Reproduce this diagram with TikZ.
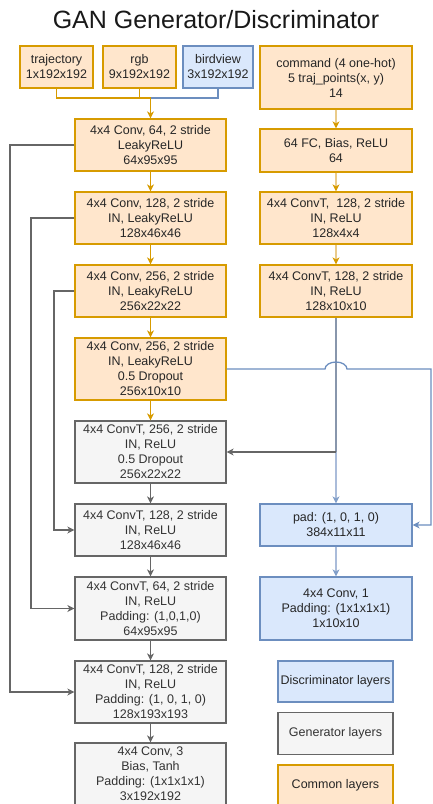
\documentclass[tikz,border=0pt]{standalone}
\usepackage{fontspec}
\setmainfont{Liberation Sans}
\usetikzlibrary{arrows.meta,calc}
\definecolor{orS}{HTML}{D79B00}
\definecolor{orF}{HTML}{FFE6CC}
\definecolor{orL}{HTML}{EACB8A}
\definecolor{blS}{HTML}{6C8EBF}
\definecolor{blF}{HTML}{DAE8FC}
\definecolor{blL}{HTML}{AABCDA}
\definecolor{grS}{HTML}{666666}
\definecolor{grF}{HTML}{F5F5F5}
\definecolor{grT}{HTML}{333333}
\definecolor{mixL}{HTML}{8896AC}
\begin{document}
\begin{tikzpicture}[x=1pt,y=-1pt,
  box/.style={draw, line width=1.2pt, align=center, inner sep=0pt,
    font=\fontsize{12.5}{15}\selectfont, minimum width=151pt},
  common/.style={box, draw=orS, fill=orF, text=black!85},
  gen/.style={box, draw=grS, fill=grF, text=grT},
  disc/.style={box, draw=blS, fill=blF, text=black!85},
  tipS/.style={-{Stealth[length=7pt,width=7pt,inset=2pt,#1]}},
  oline/.style={draw=orS, line width=1.3pt},
  oarrow/.style={oline, tipS={color=orS}},
  loarrow/.style={draw=orL, line width=1.5pt, tipS={color=orS}},
  bline/.style={draw=blS, line width=1.3pt},
  gline/.style={draw=grS, line width=1.3pt},
  garrow/.style={gline, tipS={color=grS}},
]
\useasboundingbox (0,0) rectangle (432,804);

\node[font=\fontsize{25}{30}\selectfont, text=black!90, anchor=base] (title) at (216,28.5) {GAN Generator/Discriminator};

% inputs
\node[common, minimum width=73pt, minimum height=42pt] (traj) at (56.5,67) {trajectory\\1x192x192};
\node[common, minimum width=73pt, minimum height=42pt] (rgb) at (139.5,67) {rgb\\9x192x192};
\node[disc, minimum width=70pt, minimum height=42pt] (bird) at (218,67) {birdview\\3x192x192};
\node[common, minimum width=152pt, minimum height=63pt] (cmd) at (336,77.5) {command (4 one-hot)\\5 traj\_points(x, y)\\14};

% left column
\node[common, minimum height=52pt] (c1) at (150.5,145) {4x4 Conv, 64, 2 stride\\LeakyReLU\\64x95x95};
\node[common, minimum height=52pt] (c2) at (150.5,218) {4x4 Conv, 128, 2 stride\\IN, LeakyReLU\\128x46x46};
\node[common, minimum height=52pt] (c3) at (150.5,291) {4x4 Conv, 256, 2 stride\\IN, LeakyReLU\\256x22x22};
\node[common, minimum height=62pt] (c4) at (150.5,369) {4x4 Conv, 256, 2 stride\\IN, LeakyReLU\\0.5 Dropout\\256x10x10};
\node[gen, minimum height=62pt] (g1) at (150.5,452) {4x4 ConvT, 256, 2 stride\\IN, ReLU\\0.5 Dropout\\256x22x22};
\node[gen, minimum height=52pt] (g2) at (150.5,530) {4x4 ConvT, 128, 2 stride\\IN, ReLU\\128x46x46};
\node[gen, minimum height=63pt] (g3) at (150.5,608.5) {4x4 ConvT, 64, 2 stride\\IN, ReLU\\Padding: (1,0,1,0)\\64x95x95};
\node[gen, minimum height=62pt] (g4) at (150.5,692) {4x4 ConvT, 128, 2 stride\\IN, ReLU\\Padding: (1, 0, 1, 0)\\128x193x193};
\node[gen, minimum height=62pt] (g5) at (150.5,774) {4x4 Conv, 3\\Bias, Tanh\\Padding: (1x1x1x1)\\3x192x192};

% right column
\node[common, minimum width=152pt, minimum height=43pt] (fc) at (336,150.5) {64 FC, Bias, ReLU\\64};
\node[common, minimum width=152pt, minimum height=52pt] (t1) at (336,218) {4x4 ConvT,\ \ 128, 2 stride\\IN, ReLU\\128x4x4};
\node[common, minimum width=152pt, minimum height=52pt] (t2) at (336,291) {4x4 ConvT, 128, 2 stride\\IN, ReLU\\128x10x10};
\node[disc, minimum width=152pt, minimum height=42pt] (pad) at (336,525) {pad: (1, 0, 1, 0)\\384x11x11};
\node[disc, minimum width=152pt, minimum height=63pt] (dconv) at (336,608.5) {4x4 Conv, 1\\Padding: (1x1x1x1)\\1x10x10};

% legend
\node[disc, minimum width=115pt, minimum height=41pt] (ldisc) at (335.5,681.5) {Discriminator layers};
\node[gen, minimum width=115pt, minimum height=42pt] (lgen) at (335.5,733.5) {Generator layers};
\node[common, minimum width=115pt, minimum height=41pt] (lcom) at (335.5,785.5) {Common layers};

% input merge
\coordinate (merge) at (150.5,98);
\draw[bline] (bird.south) |- (rgb.south |- merge);
\draw[oline] (traj.south) |- (merge);
\draw[oline] (rgb.south) -- (rgb.south |- merge);
\draw[oarrow] (merge) -- (c1.north);

% left column flow
\draw[oarrow] (c1) -- (c2);
\draw[oarrow] (c2) -- (c3);
\draw[oarrow] (c3) -- (c4);
\draw[oarrow] (c4) -- (g1);
\draw[garrow] (g1) -- (g2);
\draw[garrow] (g2) -- (g3);
\draw[garrow] (g3) -- (g4);
\draw[garrow] (g4) -- (g5);

% right column flow
\draw[loarrow] (cmd) -- (fc);
\draw[loarrow] (fc) -- (t1);
\draw[loarrow] (t1) -- (t2);

% skip connections
\coordinate (s1) at (10,145);
\coordinate (s2) at (31,218);
\coordinate (s3) at (54,291);
\draw[garrow] (c1.west) -- (s1) |- (g4.west);
\draw[garrow] (c2.west) -- (s2) |- (g3.west);
\draw[garrow] (c3.west) -- (s3) |- (g2.west);

% t2 branches
\coordinate (br) at (t2.south |- g1.east);
\draw[draw=mixL, line width=2pt] (t2.south) -- (br);
\draw[draw=blL, line width=2pt, tipS={color=blS!85}] (br) -- (pad.north);
\draw[garrow] (br) -- (g1.east);

% c4 to pad with line jump
\coordinate (jl) at (325,369);
\coordinate (rx) at (431,369);
\draw[bline, tipS={color=blS}] (c4.east) -- (jl)
  arc[start angle=180, end angle=0, x radius=11pt, y radius=7pt]
  -- (rx) |- (pad.east);

\draw[draw=blL, line width=2pt, tipS={color=blS!85}] (pad) -- (dconv);
\end{tikzpicture}
\end{document}
